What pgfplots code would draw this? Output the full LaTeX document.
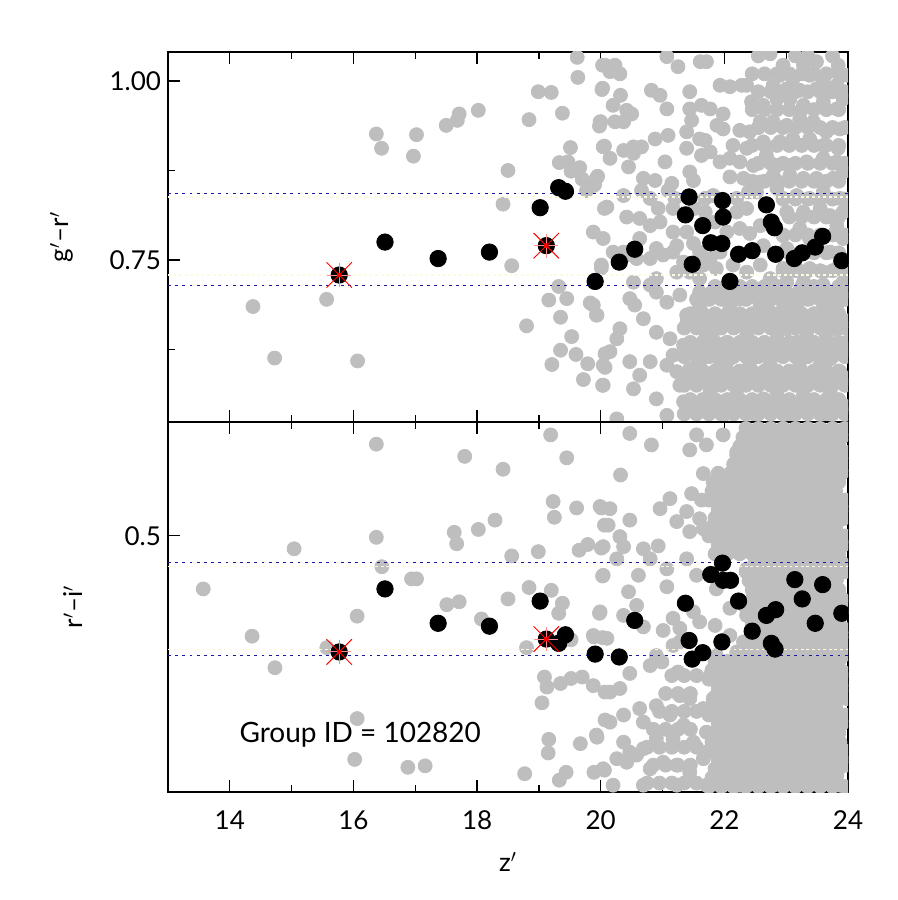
\documentclass[border=0pt]{standalone}
\usepackage{pgfplots}
\pgfplotsset{compat=1.18}
\usepackage{fontspec}
\setmainfont{Lato}
\definecolor{ptgray}{RGB}{190,190,190}
\definecolor{lineblue}{RGB}{25,25,160}
\definecolor{lineyel}{RGB}{252,250,226}

\pgfplotstableread{
x y
14.375 0.685
14.725 0.613
15.566 0.695
16.067 0.609
16.37 0.926
16.455 0.906
17.02 0.925
16.97 0.895
17.50 0.938
17.68 0.945
17.71 0.954
18.02 0.959
18.50 0.875
18.42 0.828
18.56 0.742
18.84 0.946
18.99 0.985
19.20 0.984
19.38 0.955
19.62 1.033
19.63 1.005
19.51 0.907
19.33 0.886
19.47 0.887
19.52 0.874
19.66 0.879
19.70 0.863
19.77 0.847
19.90 0.855
19.95 0.867
20.02 0.988
20.03 1.022
20.00 0.943
19.98 0.937
20.06 0.909
20.06 0.822
20.01 0.739
19.32 0.713
19.16 0.694
19.45 0.696
18.80 0.658
19.35 0.670
19.83 0.690
19.94 0.673
19.53 0.643
19.35 0.624
19.21 0.604
19.60 0.618
19.79 0.605
19.72 0.583
20.03 0.575
20.07 0.619
20.07 0.600
21.07 1.034
21.25 1.020
21.61 1.027
21.71 1.027
20.07 1.022
20.23 1.022
20.31 1.010
20.15 1.013
22.74 1.038
22.95 1.022
23.28 1.022
23.49 1.027
23.84 1.022
23.98 1.008
22.90 1.008
23.11 1.003
23.38 1.008
23.60 0.999
23.82 0.994
20.03 0.990
20.82 0.987
20.96 0.980
21.44 0.985
21.93 0.994
22.09 0.992
22.28 0.994
22.36 0.994
22.79 0.994
23.01 0.989
23.22 0.987
23.49 0.989
23.71 0.985
20.32 0.980
20.20 0.966
20.42 0.959
20.50 0.954
21.07 0.961
21.44 0.961
21.63 0.966
21.77 0.961
21.98 0.954
22.44 0.971
22.63 0.966
22.85 0.975
23.06 0.975
23.28 0.966
23.60 0.971
23.82 0.961
23.92 0.975
19.99 0.943
20.23 0.943
20.37 0.943
20.88 0.919
21.09 0.924
21.47 0.945
21.39 0.929
21.60 0.919
21.69 0.917
21.88 0.938
21.98 0.933
22.25 0.931
22.41 0.929
22.58 0.943
22.79 0.943
23.01 0.938
23.22 0.947
23.44 0.943
23.65 0.929
23.87 0.933
20.04 0.908
20.37 0.903
20.53 0.908
20.66 0.908
21.39 0.906
21.77 0.901
22.14 0.910
22.36 0.906
22.63 0.915
22.90 0.915
23.11 0.919
23.38 0.919
23.60 0.910
23.84 0.906
20.15 0.892
20.45 0.880
20.53 0.899
21.04 0.887
21.44 0.873
21.63 0.896
21.93 0.887
22.09 0.892
22.25 0.887
22.47 0.882
22.68 0.896
22.85 0.882
23.06 0.882
23.33 0.887
23.60 0.892
23.82 0.887
23.92 0.873
19.93 0.864
20.69 0.864
20.88 0.861
21.15 0.857
21.50 0.861
22.09 0.866
22.31 0.864
22.58 0.859
22.79 0.868
23.06 0.868
23.28 0.864
23.49 0.864
23.76 0.864
19.88 0.854
20.37 0.840
20.66 0.847
20.80 0.836
21.09 0.847
21.20 0.836
21.69 0.836
21.82 0.840
22.20 0.836
22.39 0.845
22.52 0.845
22.85 0.850
22.95 0.836
23.17 0.840
23.38 0.836
23.60 0.845
23.87 0.836
20.10 0.824
20.42 0.810
20.63 0.808
20.93 0.822
21.17 0.822
21.52 0.822
21.69 0.817
22.20 0.817
22.36 0.822
23.01 0.817
23.28 0.817
23.55 0.822
23.71 0.812
23.92 0.817
19.88 0.789
20.04 0.780
20.20 0.761
20.37 0.761
20.63 0.780
20.80 0.798
20.96 0.803
21.17 0.789
21.39 0.789
21.50 0.773
21.85 0.803
22.04 0.789
22.25 0.794
22.41 0.787
22.58 0.798
22.95 0.784
23.22 0.794
23.38 0.780
23.82 0.798
23.92 0.780
21.23 0.770
20.90 0.766
21.60 0.761
21.93 0.761
22.63 0.770
23.01 0.766
23.71 0.761
20.01 0.743
20.42 0.757
20.58 0.752
20.80 0.752
21.01 0.757
21.17 0.761
21.34 0.747
21.66 0.743
21.77 0.752
21.23 0.733
21.44 0.733
21.60 0.724
20.80 0.715
20.53 0.719
20.90 0.724
21.87 0.738
22.14 0.743
22.36 0.733
22.58 0.743
22.95 0.738
23.17 0.738
23.38 0.738
23.60 0.733
23.82 0.738
22.74 0.724
23.01 0.719
23.28 0.719
23.60 0.715
23.92 0.719
19.88 0.687
19.93 0.673
20.47 0.696
20.55 0.687
20.69 0.668
20.90 0.705
21.07 0.691
21.28 0.701
21.39 0.673
21.60 0.687
21.77 0.696
21.93 0.705
22.09 0.687
22.25 0.696
22.41 0.705
22.58 0.687
22.74 0.677
22.95 0.691
23.17 0.687
23.38 0.696
23.60 0.682
23.82 0.687
23.92 0.705
20.31 0.654
20.26 0.640
20.90 0.649
21.12 0.640
21.34 0.631
21.55 0.659
21.71 0.645
21.87 0.654
22.04 0.635
22.20 0.659
22.36 0.645
22.52 0.631
22.68 0.659
22.85 0.640
23.01 0.654
23.17 0.635
23.33 0.649
23.49 0.631
23.65 0.645
23.82 0.654
23.98 0.635
20.15 0.622
21.17 0.617
21.39 0.626
20.04 0.603
20.47 0.608
20.63 0.589
20.80 0.608
21.07 0.603
21.23 0.594
21.44 0.598
21.60 0.608
21.77 0.589
21.93 0.603
22.09 0.612
22.25 0.594
22.41 0.608
22.58 0.589
22.74 0.603
22.90 0.617
23.06 0.594
23.22 0.608
23.38 0.589
23.55 0.603
23.71 0.612
23.87 0.594
20.04 0.575
20.53 0.570
21.28 0.575
20.90 0.556
21.34 0.552
21.55 0.547
21.77 0.566
21.98 0.552
22.20 0.561
22.41 0.547
22.63 0.556
22.85 0.566
23.06 0.547
23.28 0.561
23.49 0.552
23.71 0.566
23.92 0.547
20.26 0.528
21.07 0.533
21.98 0.533
22.52 0.533
23.06 0.533
23.60 0.533
}\graytop

\pgfplotstableread{
x y
13.57 0.426
14.36 0.360
14.73 0.316
15.04 0.482
15.57 0.344
16.06 0.388
16.37 0.628
16.37 0.498
16.46 0.457
16.06 0.245
16.02 0.188
16.88 0.177
17.16 0.179
16.94 0.440
17.02 0.440
17.80 0.611
18.42 0.593
19.19 0.641
19.45 0.609
19.23 0.548
19.61 0.539
19.25 0.526
20.01 0.539
20.06 0.515
18.29 0.522
18.02 0.509
17.63 0.505
17.67 0.489
18.56 0.472
18.99 0.478
19.65 0.480
19.79 0.488
20.01 0.483
20.03 0.444
18.84 0.428
19.20 0.424
18.50 0.412
19.38 0.406
19.32 0.392
19.98 0.392
17.51 0.404
17.71 0.408
18.07 0.384
19.89 0.359
20.03 0.358
18.80 0.344
19.52 0.355
19.09 0.303
19.13 0.289
19.35 0.294
19.52 0.301
19.70 0.303
19.05 0.267
20.07 0.282
19.16 0.216
19.15 0.197
19.67 0.210
19.94 0.219
18.77 0.168
19.44 0.170
19.33 0.159
19.89 0.170
20.06 0.173
20.07 0.243
20.47 0.643
20.82 0.627
21.55 0.641
21.44 0.620
21.71 0.627
21.98 0.641
22.20 0.617
22.36 0.631
22.52 0.645
22.74 0.631
22.95 0.650
23.17 0.636
23.38 0.645
23.60 0.627
23.82 0.641
23.95 0.617
22.63 0.613
23.06 0.613
23.49 0.608
20.32 0.585
21.66 0.587
21.82 0.575
22.09 0.571
22.31 0.594
22.52 0.580
22.74 0.599
23.01 0.585
23.22 0.594
23.44 0.580
23.65 0.589
23.87 0.599
21.96 0.561
19.99 0.541
20.15 0.538
20.47 0.522
20.12 0.515
20.96 0.538
21.12 0.552
21.39 0.534
21.23 0.520
21.47 0.559
21.63 0.550
21.60 0.524
21.87 0.527
22.09 0.538
22.36 0.552
22.52 0.529
22.74 0.543
22.95 0.557
23.17 0.534
23.38 0.547
23.60 0.529
23.82 0.552
23.92 0.524
20.04 0.485
20.31 0.499
20.37 0.485
20.69 0.482
20.93 0.486
21.44 0.506
21.66 0.510
21.82 0.501
21.98 0.492
22.25 0.510
22.52 0.496
22.74 0.515
22.95 0.501
23.22 0.506
23.49 0.496
23.71 0.510
23.92 0.487
22.20 0.478
22.63 0.478
23.06 0.478
23.60 0.478
20.26 0.468
20.80 0.468
21.07 0.454
21.39 0.468
20.04 0.445
20.61 0.445
21.07 0.429
22.36 0.454
22.58 0.464
22.85 0.459
23.33 0.459
23.82 0.464
22.52 0.436
22.85 0.431
23.38 0.422
23.82 0.440
21.87 0.426
21.55 0.445
20.45 0.422
20.58 0.403
19.99 0.394
20.37 0.389
20.69 0.373
21.01 0.368
21.17 0.385
21.28 0.371
21.50 0.394
21.60 0.380
21.85 0.375
22.09 0.399
22.36 0.389
23.06 0.385
23.28 0.371
23.71 0.399
23.92 0.371
22.47 0.417
23.06 0.417
23.60 0.408
19.88 0.361
20.10 0.357
21.28 0.352
21.17 0.347
20.90 0.333
20.80 0.319
22.09 0.361
22.20 0.338
22.52 0.343
23.06 0.352
23.28 0.338
23.60 0.352
23.82 0.361
23.92 0.333
21.87 0.333
22.31 0.352
20.47 0.308
20.31 0.287
20.15 0.282
21.25 0.310
20.99 0.324
21.77 0.305
22.04 0.305
22.20 0.319
22.41 0.305
22.63 0.319
22.85 0.301
23.06 0.315
23.33 0.305
23.55 0.324
23.71 0.305
23.92 0.310
22.52 0.291
23.17 0.291
23.65 0.287
21.98 0.287
20.90 0.263
21.12 0.250
21.28 0.277
21.44 0.273
21.66 0.259
21.82 0.273
22.04 0.254
22.25 0.268
22.47 0.254
22.68 0.273
22.90 0.259
23.11 0.273
23.33 0.254
23.55 0.268
23.76 0.254
23.98 0.273
20.37 0.250
20.63 0.259
20.69 0.240
19.88 0.291
19.93 0.222
20.15 0.240
20.37 0.212
20.47 0.198
20.69 0.203
20.90 0.217
21.17 0.217
21.34 0.236
21.50 0.212
21.71 0.226
21.93 0.208
22.14 0.231
22.36 0.212
22.58 0.222
22.79 0.236
23.01 0.212
23.22 0.226
23.44 0.208
23.65 0.226
23.87 0.212
20.04 0.175
20.26 0.189
20.42 0.184
20.58 0.194
20.80 0.175
21.01 0.184
21.23 0.180
21.44 0.170
21.66 0.189
21.87 0.166
22.09 0.175
22.31 0.189
22.52 0.166
22.74 0.180
22.95 0.166
23.17 0.184
23.38 0.170
23.60 0.184
23.82 0.166
23.98 0.180
20.20 0.152
20.69 0.152
21.23 0.152
21.71 0.152
22.25 0.152
22.79 0.152
23.33 0.152
23.87 0.152
}\graybot

\pgfplotstableread{
x y
16.51 0.775
17.37 0.752
18.20 0.761
19.02 0.823
19.32 0.851
19.43 0.846
19.91 0.720
20.30 0.747
20.55 0.765
21.43 0.838
21.37 0.813
21.65 0.798
21.48 0.744
21.78 0.774
21.96 0.773
21.97 0.833
21.98 0.810
22.23 0.758
22.45 0.763
22.09 0.720
22.68 0.827
22.76 0.803
22.81 0.795
22.83 0.758
23.13 0.752
23.26 0.760
23.47 0.768
23.59 0.783
23.90 0.749
}\blacktop

\pgfplotstableread{
x y
16.51 0.426
17.37 0.378
18.20 0.374
19.02 0.409
19.43 0.362
19.32 0.350
19.91 0.335
20.30 0.331
20.55 0.382
21.37 0.406
21.43 0.354
21.48 0.328
21.65 0.337
21.78 0.446
21.97 0.462
21.98 0.438
22.10 0.438
22.23 0.409
21.96 0.352
22.45 0.367
22.68 0.389
22.83 0.397
22.76 0.350
22.82 0.342
23.14 0.439
23.26 0.412
23.47 0.378
23.59 0.432
23.90 0.392
}\blackbot

\pgfplotstableread{
x y
15.77 0.729
19.12 0.770
}\redtop

\pgfplotstableread{
x y
15.77 0.338
19.12 0.356
}\redbot

\pgfplotsset{
  panel/.style={
    width=340pt, height=185pt, scale only axis,
    xmin=13, xmax=24,
    xtick={14,16,...,24}, minor xtick={13,15,...,23},
    tick align=inside, tick pos=both,
    major tick length=6pt, minor tick length=3.5pt,
    axis line style={line width=0.6pt},
    every tick/.style={black, line width=0.6pt},
    clip marker paths=true,
    yticklabel pos=left,
    tick label style={font=\fontsize{13}{15}\selectfont},
    /pgf/number format/assume math mode=true,
    label style={font=\fontsize{13}{15}\selectfont},
    xticklabel shift=6pt,
  },
  graypts/.style={only marks, mark=*, mark size=3.5pt, color=ptgray, mark options={fill=ptgray, draw=none}},
  blackpts/.style={only marks, mark=*, mark size=4.1pt, color=black, mark options={fill=black, draw=none}},
  bluel/.style={lineblue, line width=0.5pt, dash pattern=on 1.4pt off 2.2pt},
  yell/.style={lineyel, line width=0.6pt, dash pattern=on 1.4pt off 1.4pt},
}

\begin{document}
\begin{tikzpicture}
\begin{axis}[panel, at={(0pt,185pt)},
  ymin=0.5237, ymax=1.0405,
  ytick={0.75,1.0}, yticklabels={0.75,1.00},
  minor ytick={0.625,0.875},
  xticklabels={},
  ylabel={g$'$--r$'$},
  ylabel style={at={(axis description cs:-0.156,0.5)}, anchor=center, rotate=0},
]
\addplot[graypts] table {\graytop};
% dense part of the cloud, lower right
\addplot[graypts] coordinates {
(21.35,0.535)(21.55,0.535)(21.75,0.535)(21.95,0.535)(22.15,0.535)(22.35,0.535)(22.55,0.535)(22.75,0.535)(22.95,0.535)(23.15,0.535)(23.35,0.535)(23.55,0.535)(23.75,0.535)(23.95,0.535)
(21.40,0.545)(21.60,0.545)(21.80,0.545)(22.00,0.545)(22.20,0.545)(22.40,0.545)(22.60,0.545)(22.80,0.545)(23.00,0.545)(23.20,0.545)(23.40,0.545)(23.60,0.545)(23.80,0.545)(24.00,0.545)
(21.45,0.555)(21.65,0.555)(21.85,0.555)(22.05,0.555)(22.25,0.555)(22.45,0.555)(22.65,0.555)(22.85,0.555)(23.05,0.555)(23.25,0.555)(23.45,0.555)(23.65,0.555)(23.85,0.555)
(21.35,0.575)(21.55,0.575)(21.75,0.575)(21.95,0.575)(22.15,0.575)(22.35,0.575)(22.55,0.575)(22.75,0.575)(22.95,0.575)(23.15,0.575)(23.35,0.575)(23.55,0.575)(23.75,0.575)(23.95,0.575)
(21.40,0.585)(21.60,0.585)(21.80,0.585)(22.00,0.585)(22.20,0.585)(22.40,0.585)(22.60,0.585)(22.80,0.585)(23.00,0.585)(23.20,0.585)(23.40,0.585)(23.60,0.585)(23.80,0.585)(24.00,0.585)
(21.45,0.595)(21.65,0.595)(21.85,0.595)(22.05,0.595)(22.25,0.595)(22.45,0.595)(22.65,0.595)(22.85,0.595)(23.05,0.595)(23.25,0.595)(23.45,0.595)(23.65,0.595)(23.85,0.595)
(21.35,0.615)(21.55,0.615)(21.75,0.615)(21.95,0.615)(22.15,0.615)(22.35,0.615)(22.55,0.615)(22.75,0.615)(22.95,0.615)(23.15,0.615)(23.35,0.615)(23.55,0.615)(23.75,0.615)(23.95,0.615)
(21.40,0.625)(21.60,0.625)(21.80,0.625)(22.00,0.625)(22.20,0.625)(22.40,0.625)(22.60,0.625)(22.80,0.625)(23.00,0.625)(23.20,0.625)(23.40,0.625)(23.60,0.625)(23.80,0.625)(24.00,0.625)
(21.45,0.635)(21.65,0.635)(21.85,0.635)(22.05,0.635)(22.25,0.635)(22.45,0.635)(22.65,0.635)(22.85,0.635)(23.05,0.635)(23.25,0.635)(23.45,0.635)(23.65,0.635)(23.85,0.635)
(21.35,0.655)(21.55,0.655)(21.75,0.655)(21.95,0.655)(22.15,0.655)(22.35,0.655)(22.55,0.655)(22.75,0.655)(22.95,0.655)(23.15,0.655)(23.35,0.655)(23.55,0.655)(23.75,0.655)(23.95,0.655)
(21.40,0.665)(21.60,0.665)(21.80,0.665)(22.00,0.665)(22.20,0.665)(22.40,0.665)(22.60,0.665)(22.80,0.665)(23.00,0.665)(23.20,0.665)(23.40,0.665)(23.60,0.665)(23.80,0.665)(24.00,0.665)
(21.45,0.675)(21.65,0.675)(21.85,0.675)(22.05,0.675)(22.25,0.675)(22.45,0.675)(22.65,0.675)(22.85,0.675)(23.05,0.675)(23.25,0.675)(23.45,0.675)(23.65,0.675)(23.85,0.675)
(21.55,0.695)(21.75,0.695)(21.95,0.695)(22.15,0.695)(22.35,0.695)(22.55,0.695)(22.75,0.695)(22.95,0.695)(23.15,0.695)(23.35,0.695)(23.55,0.695)(23.75,0.695)(23.95,0.695)
(21.60,0.705)(21.80,0.705)(22.00,0.705)(22.20,0.705)(22.40,0.705)(22.60,0.705)(22.80,0.705)(23.00,0.705)(23.20,0.705)(23.40,0.705)(23.60,0.705)(23.80,0.705)(24.00,0.705)
(21.85,0.713)(22.25,0.713)(22.45,0.713)(22.65,0.713)(22.85,0.713)(23.25,0.713)(23.45,0.713)(23.85,0.713)
};
% dense part, upper right and middle right
\addplot[graypts] coordinates {
(22.45,0.860)(22.65,0.860)(22.85,0.860)(23.05,0.860)(23.25,0.860)(23.45,0.860)(23.65,0.860)(23.85,0.860)
(22.55,0.885)(22.75,0.885)(22.95,0.885)(23.15,0.885)(23.35,0.885)(23.55,0.885)(23.75,0.885)(23.95,0.885)
(22.45,0.910)(22.65,0.910)(22.85,0.910)(23.05,0.910)(23.25,0.910)(23.45,0.910)(23.65,0.910)(23.85,0.910)
(22.55,0.935)(22.75,0.935)(22.95,0.935)(23.15,0.935)(23.35,0.935)(23.55,0.935)(23.75,0.935)(23.95,0.935)
(22.45,0.960)(22.65,0.960)(22.85,0.960)(23.05,0.960)(23.25,0.960)(23.45,0.960)(23.65,0.960)(23.85,0.960)
(22.55,0.985)(22.75,0.985)(22.95,0.985)(23.15,0.985)(23.35,0.985)(23.55,0.985)(23.75,0.985)(23.95,0.985)
(22.45,1.010)(22.65,1.010)(22.85,1.010)(23.05,1.010)(23.25,1.010)(23.45,1.010)(23.65,1.010)(23.85,1.010)
(22.55,1.035)(23.15,1.035)(23.35,1.035)(23.75,1.035)
(22.95,0.735)(23.15,0.735)(23.35,0.735)(23.55,0.735)(23.75,0.735)(23.95,0.735)
(23.05,0.760)(23.25,0.760)(23.45,0.760)(23.65,0.760)(23.85,0.760)
(22.95,0.785)(23.15,0.785)(23.35,0.785)(23.55,0.785)(23.75,0.785)(23.95,0.785)
(23.05,0.810)(23.25,0.810)(23.45,0.810)(23.65,0.810)(23.85,0.810)
(22.95,0.835)(23.15,0.835)(23.35,0.835)(23.55,0.835)(23.75,0.835)(23.95,0.835)
};
\addplot[yell] coordinates {(13,0.838) (24,0.838)};
\addplot[yell] coordinates {(13,0.729) (24,0.729)};
\addplot[bluel] coordinates {(13,0.843) (24,0.843)};
\addplot[bluel] coordinates {(13,0.715) (24,0.715)};
\addplot[blackpts] table {\blacktop};
\addplot[blackpts] table {\redtop};
\addplot[only marks, mark=+, mark size=6pt, color=red!45, mark options={line width=0.5pt}] table {\redtop};
\addplot[only marks, mark=x, mark size=9pt, color=red, mark options={line width=0.5pt}] table {\redtop};
\addplot[only marks, mark=*, mark size=1pt, color=red, mark options={draw=none, fill=red}] table {\redtop};
\end{axis}
\begin{axis}[panel, at={(0pt,0pt)},
  ymin=0.1425, ymax=0.659,
  ytick={0.5}, yticklabels={0.5},
  minor ytick={},
  xticklabels={14,16,18,20,22,24},
  xlabel={z$'$},
  xlabel style={at={(axis description cs:0.5,-0.19)}, anchor=center},
  ylabel={r$'$--i$'$},
  ylabel style={at={(axis description cs:-0.14,0.5)}, anchor=center, rotate=0},
]
\addplot[graypts] table {\graybot};
% dense part of the cloud, right
\addplot[graypts] coordinates {
(21.75,0.150)(21.95,0.150)(22.15,0.150)(22.35,0.150)(22.55,0.150)(22.75,0.150)(22.95,0.150)(23.15,0.150)(23.35,0.150)(23.55,0.150)(23.75,0.150)(23.95,0.150)
(21.80,0.1625)(22.00,0.1625)(22.20,0.1625)(22.40,0.1625)(22.60,0.1625)(22.80,0.1625)(23.00,0.1625)(23.20,0.1625)(23.40,0.1625)(23.60,0.1625)(23.80,0.1625)
(21.85,0.175)(22.05,0.175)(22.25,0.175)(22.45,0.175)(22.65,0.175)(22.85,0.175)(23.05,0.175)(23.25,0.175)(23.45,0.175)(23.65,0.175)(23.85,0.175)
(21.90,0.1875)(22.10,0.1875)(22.30,0.1875)(22.50,0.1875)(22.70,0.1875)(22.90,0.1875)(23.10,0.1875)(23.30,0.1875)(23.50,0.1875)(23.70,0.1875)(23.90,0.1875)
(21.75,0.200)(21.95,0.200)(22.15,0.200)(22.35,0.200)(22.55,0.200)(22.75,0.200)(22.95,0.200)(23.15,0.200)(23.35,0.200)(23.55,0.200)(23.75,0.200)(23.95,0.200)
(21.80,0.2125)(22.00,0.2125)(22.20,0.2125)(22.40,0.2125)(22.60,0.2125)(22.80,0.2125)(23.00,0.2125)(23.20,0.2125)(23.40,0.2125)(23.60,0.2125)(23.80,0.2125)
(21.85,0.225)(22.05,0.225)(22.25,0.225)(22.45,0.225)(22.65,0.225)(22.85,0.225)(23.05,0.225)(23.25,0.225)(23.45,0.225)(23.65,0.225)(23.85,0.225)
(21.90,0.2375)(22.10,0.2375)(22.30,0.2375)(22.50,0.2375)(22.70,0.2375)(22.90,0.2375)(23.10,0.2375)(23.30,0.2375)(23.50,0.2375)(23.70,0.2375)(23.90,0.2375)
(21.75,0.250)(21.95,0.250)(22.15,0.250)(22.35,0.250)(22.55,0.250)(22.75,0.250)(22.95,0.250)(23.15,0.250)(23.35,0.250)(23.55,0.250)(23.75,0.250)(23.95,0.250)
(21.80,0.2625)(22.00,0.2625)(22.20,0.2625)(22.40,0.2625)(22.60,0.2625)(22.80,0.2625)(23.00,0.2625)(23.20,0.2625)(23.40,0.2625)(23.60,0.2625)(23.80,0.2625)
(21.85,0.275)(22.05,0.275)(22.25,0.275)(22.45,0.275)(22.65,0.275)(22.85,0.275)(23.05,0.275)(23.25,0.275)(23.45,0.275)(23.65,0.275)(23.85,0.275)
(21.90,0.2875)(22.10,0.2875)(22.30,0.2875)(22.50,0.2875)(22.70,0.2875)(22.90,0.2875)(23.10,0.2875)(23.30,0.2875)(23.50,0.2875)(23.70,0.2875)(23.90,0.2875)
(21.75,0.300)(21.95,0.300)(22.15,0.300)(22.35,0.300)(22.55,0.300)(22.75,0.300)(22.95,0.300)(23.15,0.300)(23.35,0.300)(23.55,0.300)(23.75,0.300)(23.95,0.300)
(21.80,0.3125)(22.00,0.3125)(22.20,0.3125)(22.40,0.3125)(22.60,0.3125)(22.80,0.3125)(23.00,0.3125)(23.20,0.3125)(23.40,0.3125)(23.60,0.3125)(23.80,0.3125)
(21.85,0.325)(22.05,0.325)(22.25,0.325)(22.45,0.325)(22.65,0.325)(22.85,0.325)(23.05,0.325)(23.25,0.325)(23.45,0.325)(23.65,0.325)(23.85,0.325)
(22.40,0.3375)(22.60,0.3375)(22.80,0.3375)(23.00,0.3375)(23.20,0.3375)(23.40,0.3375)(23.60,0.3375)(23.80,0.3375)
(22.35,0.350)(22.55,0.350)(22.75,0.350)(22.95,0.350)(23.15,0.350)(23.35,0.350)(23.55,0.350)(23.75,0.350)(23.95,0.350)
(22.50,0.3625)(22.70,0.3625)(22.90,0.3625)(23.10,0.3625)(23.30,0.3625)(23.50,0.3625)(23.70,0.3625)(23.90,0.3625)
(22.45,0.375)(22.65,0.375)(22.85,0.375)(23.05,0.375)(23.25,0.375)(23.45,0.375)(23.65,0.375)(23.85,0.375)
(22.40,0.3875)(22.60,0.3875)(22.80,0.3875)(23.00,0.3875)(23.20,0.3875)(23.40,0.3875)(23.60,0.3875)(23.80,0.3875)
(22.35,0.400)(22.55,0.400)(22.75,0.400)(22.95,0.400)(23.15,0.400)(23.35,0.400)(23.55,0.400)(23.75,0.400)(23.95,0.400)
(22.50,0.4125)(22.70,0.4125)(22.90,0.4125)(23.10,0.4125)(23.30,0.4125)(23.50,0.4125)(23.70,0.4125)(23.90,0.4125)
(22.45,0.425)(22.65,0.425)(22.85,0.425)(23.05,0.425)(23.25,0.425)(23.45,0.425)(23.65,0.425)(23.85,0.425)
(22.40,0.4375)(22.60,0.4375)(22.80,0.4375)(23.00,0.4375)(23.20,0.4375)(23.40,0.4375)(23.60,0.4375)(23.80,0.4375)
(22.35,0.450)(22.55,0.450)(22.75,0.450)(22.95,0.450)(23.15,0.450)(23.35,0.450)(23.55,0.450)(23.75,0.450)(23.95,0.450)
(22.50,0.4625)(22.70,0.4625)(22.90,0.4625)(23.10,0.4625)(23.30,0.4625)(23.50,0.4625)(23.70,0.4625)(23.90,0.4625)
(21.85,0.475)(22.05,0.475)(22.25,0.475)(22.45,0.475)(22.65,0.475)(22.85,0.475)(23.05,0.475)(23.25,0.475)(23.45,0.475)(23.65,0.475)(23.85,0.475)
(21.90,0.4875)(22.10,0.4875)(22.30,0.4875)(22.50,0.4875)(22.70,0.4875)(22.90,0.4875)(23.10,0.4875)(23.30,0.4875)(23.50,0.4875)(23.70,0.4875)(23.90,0.4875)
(21.75,0.500)(21.95,0.500)(22.15,0.500)(22.35,0.500)(22.55,0.500)(22.75,0.500)(22.95,0.500)(23.15,0.500)(23.35,0.500)(23.55,0.500)(23.75,0.500)(23.95,0.500)
(21.80,0.5125)(22.00,0.5125)(22.20,0.5125)(22.40,0.5125)(22.60,0.5125)(22.80,0.5125)(23.00,0.5125)(23.20,0.5125)(23.40,0.5125)(23.60,0.5125)(23.80,0.5125)
(21.85,0.525)(22.05,0.525)(22.25,0.525)(22.45,0.525)(22.65,0.525)(22.85,0.525)(23.05,0.525)(23.25,0.525)(23.45,0.525)(23.65,0.525)(23.85,0.525)
(21.90,0.5375)(22.10,0.5375)(22.30,0.5375)(22.50,0.5375)(22.70,0.5375)(22.90,0.5375)(23.10,0.5375)(23.30,0.5375)(23.50,0.5375)(23.70,0.5375)(23.90,0.5375)
(21.75,0.550)(21.95,0.550)(22.15,0.550)(22.35,0.550)(22.55,0.550)(22.75,0.550)(22.95,0.550)(23.15,0.550)(23.35,0.550)(23.55,0.550)(23.75,0.550)(23.95,0.550)
(21.80,0.5625)(22.00,0.5625)(22.20,0.5625)(22.40,0.5625)(22.60,0.5625)(22.80,0.5625)(23.00,0.5625)(23.20,0.5625)(23.40,0.5625)(23.60,0.5625)(23.80,0.5625)
(21.85,0.575)(22.05,0.575)(22.25,0.575)(22.45,0.575)(22.65,0.575)(22.85,0.575)(23.05,0.575)(23.25,0.575)(23.45,0.575)(23.65,0.575)(23.85,0.575)
(21.90,0.5875)(22.10,0.5875)(22.30,0.5875)(22.50,0.5875)(22.70,0.5875)(22.90,0.5875)(23.10,0.5875)(23.30,0.5875)(23.50,0.5875)(23.70,0.5875)(23.90,0.5875)
(22.15,0.600)(22.35,0.600)(22.55,0.600)(22.75,0.600)(22.95,0.600)(23.15,0.600)(23.35,0.600)(23.55,0.600)(23.75,0.600)(23.95,0.600)
(22.20,0.6125)(22.40,0.6125)(22.60,0.6125)(22.80,0.6125)(23.00,0.6125)(23.20,0.6125)(23.40,0.6125)(23.60,0.6125)(23.80,0.6125)
(22.25,0.625)(22.45,0.625)(22.65,0.625)(22.85,0.625)(23.05,0.625)(23.25,0.625)(23.45,0.625)(23.65,0.625)(23.85,0.625)
(22.30,0.6375)(22.50,0.6375)(22.70,0.6375)(22.90,0.6375)(23.10,0.6375)(23.30,0.6375)(23.50,0.6375)(23.70,0.6375)(23.90,0.6375)
(22.35,0.650)(22.55,0.650)(22.75,0.650)(22.95,0.650)(23.15,0.650)(23.35,0.650)(23.55,0.650)(23.75,0.650)(23.95,0.650)
(20.75,0.155)(20.95,0.155)(21.15,0.155)(21.35,0.155)(21.55,0.155)
(20.85,0.180)(21.05,0.180)(21.25,0.180)(21.45,0.180)
(20.75,0.205)(20.95,0.205)(21.15,0.205)(21.35,0.205)(21.55,0.205)
(20.85,0.230)(21.05,0.230)(21.25,0.230)(21.45,0.230)
(20.95,0.255)(21.15,0.255)(21.35,0.255)(21.55,0.255)
(21.05,0.280)(21.25,0.280)(21.45,0.280)
(21.15,0.305)(21.35,0.305)(21.55,0.305)
};
\addplot[yell] coordinates {(13,0.457) (24,0.457)};
\addplot[yell] coordinates {(13,0.341) (24,0.341)};
\addplot[bluel] coordinates {(13,0.463) (24,0.463)};
\addplot[bluel] coordinates {(13,0.333) (24,0.333)};
\addplot[blackpts] table {\blackbot};
\addplot[blackpts] table {\redbot};
\addplot[only marks, mark=+, mark size=6pt, color=red!45, mark options={line width=0.5pt}] table {\redbot};
\addplot[only marks, mark=x, mark size=9pt, color=red, mark options={line width=0.5pt}] table {\redbot};
\addplot[only marks, mark=*, mark size=1pt, color=red, mark options={draw=none, fill=red}] table {\redbot};
\node[font=\fontsize{14}{16}\selectfont, anchor=center] at (axis cs:16.11,0.222) {Group ID = 102820};
\end{axis}
\path[use as bounding box] (-84pt,-54pt) rectangle (365pt,396pt);
\end{tikzpicture}
\end{document}
